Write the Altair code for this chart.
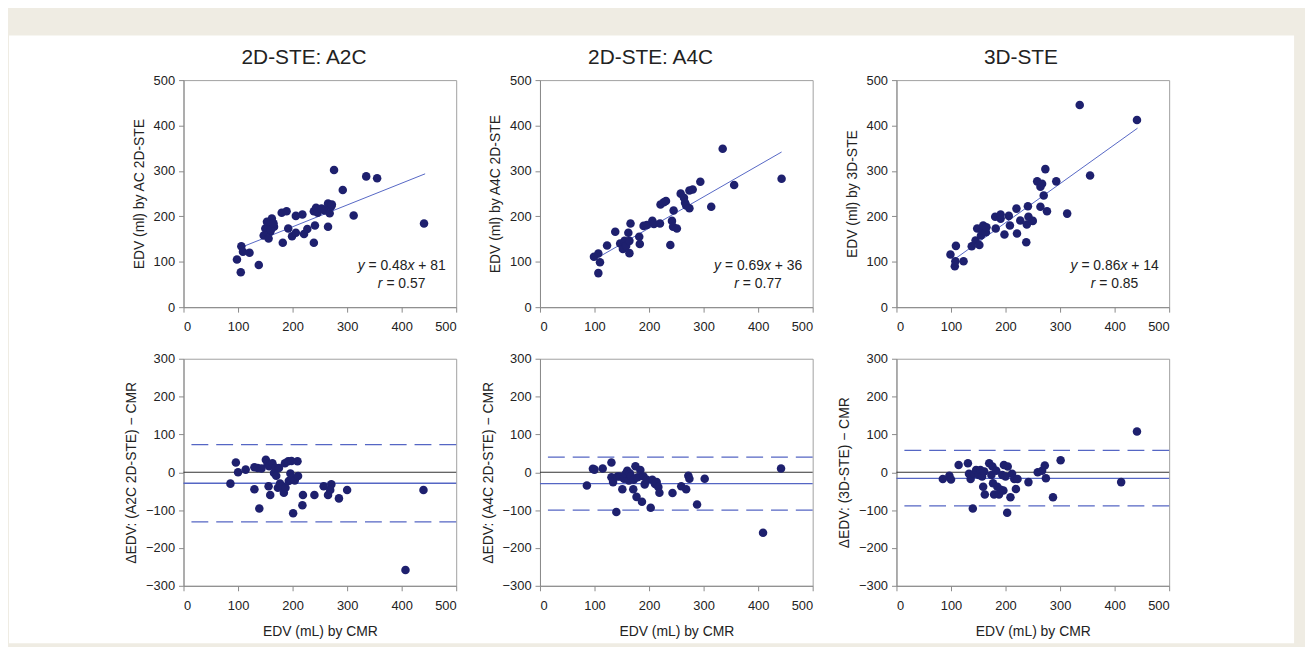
import altair as alt
import pandas as pd

FONT = "Liberation Sans, Arial, Helvetica, sans-serif"
NAVY = "#1e206e"
BLUE = "#5566c4"
TXT = "#222222"
BEIGE = "#efece3"

PANEL_TITLES = ["2D-STE: A2C", "2D-STE: A4C", "3D-STE"]
TOP_YTITLES = ["EDV (ml) by AC 2D-STE", "EDV (ml) by A4C 2D-STE", "EDV (ml) by 3D-STE"]
BOT_YTITLES = ["ΔEDV: (A2C 2D-STE) − CMR", "ΔEDV: (A4C 2D-STE) − CMR", "ΔEDV: (3D-STE) − CMR"]
X_TITLE = "EDV (mL) by CMR"
X_TICKS = [0, 100, 200, 300, 400, 500]
TOP_YTICKS = [0, 100, 200, 300, 400, 500]
BOT_YTICKS = [-300, -200, -100, 0, 100, 200, 300]

# regression statistics shown in the panels
SLOPES = [0.48, 0.69, 0.86]
INTERCEPTS = [81, 36, 14]
R_VALUES = [0.57, 0.77, 0.85]
LINE_X = [[110, 443], [102, 443], [108, 442]]

# Bland-Altman: mean bias and limits of agreement
BA_MEAN = [-29, -30, -16]
BA_UPPER = [73, 40, 58]
BA_LOWER = [-131, -100, -89]

# ---- scatter: A2C ----
a2c_cmr = [98, 105, 106, 109, 121, 138, 162, 150, 154, 159, 147, 156, 166, 153, 160, 165,
           180, 189, 182, 192, 199, 206, 206, 218, 221, 227, 239, 241, 239, 243, 246, 253,
           259, 265, 265, 268, 271, 272, 276, 292, 312, 335, 355, 441]
a2c_ste = [105, 77, 134, 122, 120, 93, 195, 173, 174, 166, 158, 151, 177, 188, 170, 185,
           208, 211, 142, 173, 156, 164, 201, 204, 161, 172, 142, 180, 211, 219, 208, 217,
           213, 228, 177, 207, 222, 226, 302, 258, 202, 288, 284, 184]
# ---- scatter: A4C ----
a4c_cmr = [99, 107, 110, 107, 123, 138, 147, 152, 155, 158, 162, 164, 166, 164, 182, 183,
           190, 196, 206, 209, 220, 221, 227, 231, 239, 242, 244, 245, 251, 258, 264, 266,
           268, 274, 274, 280, 294, 314, 335, 356, 443]
a4c_ste = [111, 118, 99, 75, 136, 166, 140, 128, 146, 135, 164, 119, 184, 146, 155, 139,
           179, 181, 190, 183, 184, 226, 231, 234, 137, 190, 177, 213, 173, 250, 241, 230,
           224, 218, 257, 259, 276, 221, 349, 269, 283]
# ---- scatter: 3D ----
d3_cmr = [99, 107, 109, 108, 123, 138, 145, 148, 152, 155, 158, 159, 164, 165, 182, 181,
          191, 191, 198, 206, 208, 221, 220, 227, 238, 239, 241, 242, 250, 258, 264, 267,
          270, 264, 273, 276, 293, 313, 336, 355, 441]
d3_ste = [116, 90, 135, 101, 101, 134, 147, 173, 137, 158, 169, 180, 165, 176, 173, 199,
          195, 204, 160, 201, 180, 162, 217, 191, 143, 182, 222, 199, 190, 277, 265, 272,
          246, 221, 304, 211, 277, 206, 445, 290, 412]

# ---- Bland-Altman: A2C ----
ba_a2c_x = [86, 96, 100, 114, 130, 130, 136, 139, 143, 151, 154, 156, 157, 159, 163, 166,
            169, 170, 173, 175, 177, 181, 184, 186, 187, 192, 193, 196, 198, 199, 201, 204,
            209, 210, 218, 219, 240, 257, 265, 271, 269, 285, 300, 407, 440]
ba_a2c_d = [-30, 26, 0, 7, 13, -45, 11, -96, 10, 33, 22, -37, 16, -60, 24, -2,
            11, -9, -41, 11, -30, -37, -54, 24, -41, 29, -23, -3, 30, -15, -108, -22,
            29, -10, -87, -60, -60, -37, -60, -32, -47, -69, -47, -258, -47]
# ---- Bland-Altman: A4C ----
ba_a4c_x = [86, 97, 100, 115, 131, 131, 134, 140, 142, 146, 151, 154, 157, 160, 163, 165,
            167, 171, 172, 175, 177, 179, 184, 187, 190, 192, 196, 203, 206, 211, 214, 217,
            219, 243, 259, 268, 272, 274, 288, 302, 409, 442]
ba_a4c_d = [-35, 9, 7, 10, 26, -13, -26, -105, -11, -11, -45, -17, -4, 4, -22, -3,
            -11, -45, -20, 16, -65, -13, 6, -78, -11, -32, -20, -94, -20, -31, -26, -39,
            -54, -55, -37, -45, -9, -17, -85, -17, -160, 10]
# ---- Bland-Altman: 3D ----
ba_3d_x = [85, 97, 100, 114, 131, 133, 136, 140, 143, 146, 151, 154, 157, 159, 161, 162,
           170, 174, 176, 177, 179, 183, 185, 188, 191, 194, 196, 197, 200, 204, 203, 209,
           212, 216, 219, 222, 242, 259, 267, 272, 274, 287, 301, 412, 441]
ba_3d_d = [-18, -9, -19, 19, 24, -4, -18, -96, -4, 6, -7, 6, -11, -38, 2, -59,
           24, -7, 15, -29, -59, 4, -38, -59, -46, -7, -48, 19, -11, 15, -107, -66,
           -4, -18, -44, -18, -26, 0, 4, 18, -16, -66, 32, -26, 108]

SCATTER = [(a2c_cmr, a2c_ste), (a4c_cmr, a4c_ste), (d3_cmr, d3_ste)]
BLAND = [(ba_a2c_x, ba_a2c_d), (ba_a4c_x, ba_a4c_d), (ba_3d_x, ba_3d_d)]

W, H = 275, 229
TITLE_DX = [-16, -26, -12]
ANNOT_X = 400
ANNOT_Y1 = 90
ANNOT_Y2 = 51


def xenc(title):
    return alt.X("x:Q", scale=alt.Scale(domain=[0, 500], nice=False),
                 axis=alt.Axis(values=X_TICKS, title=title, labelPadding=9, titlePadding=12))


def yenc(domain, ticks, title):
    return alt.Y("y:Q", scale=alt.Scale(domain=domain, nice=False),
                 axis=alt.Axis(values=ticks, title=title, labelPadding=4, titlePadding=7))


def text_piece(df, xt, yv, txt, dx, italic):
    kw = dict(text=txt, align="left", baseline="middle", dx=dx, fontSize=14,
              font=FONT, color=TXT)
    if italic:
        kw["fontStyle"] = "italic"
    return alt.Chart(df).mark_text(**kw).encode(x=xt, y=yv)


def top_panel(i):
    xs, ys = SCATTER[i]
    xt = xenc(None)
    yt = yenc([0, 500], TOP_YTICKS, TOP_YTITLES[i])
    pts = alt.Chart(pd.DataFrame({"x": xs, "y": ys})).mark_circle(
        size=74, color=NAVY, opacity=1).encode(x=xt, y=yt)
    lx = LINE_X[i]
    ly = [SLOPES[i] * v + INTERCEPTS[i] for v in lx]
    line = alt.Chart(pd.DataFrame({"x": lx, "y": ly})).mark_line(
        color=BLUE, strokeWidth=1).encode(x=xt, y=yt)
    a1 = pd.DataFrame({"x": [ANNOT_X], "y": [ANNOT_Y1]})
    a2 = pd.DataFrame({"x": [ANNOT_X], "y": [ANNOT_Y2]})
    layers = [
        line, pts,
        text_piece(a1, xt, yt, "y", -44.4, True),
        text_piece(a1, xt, yt, f"= {SLOPES[i]:.2f}", -33.5, False),
        text_piece(a1, xt, yt, "x", 5.9, True),
        text_piece(a1, xt, yt, f"+ {INTERCEPTS[i]}", 16.8, False),
        text_piece(a2, xt, yt, "r", -24.0, True),
        text_piece(a2, xt, yt, f"= {R_VALUES[i]:.2f}", -15.4, False),
    ]
    return alt.layer(*layers).properties(
        width=W, height=H,
        title=alt.TitleParams(PANEL_TITLES[i], fontSize=21, font=FONT, fontWeight="normal",
                              color=TXT, dx=TITLE_DX[i], offset=6))


def bottom_panel(i):
    xs, ds = BLAND[i]
    xt = xenc(X_TITLE)
    yt = yenc([-300, 300], BOT_YTICKS, BOT_YTITLES[i])
    pts = alt.Chart(pd.DataFrame({"x": xs, "y": ds})).mark_circle(
        size=74, color=NAVY, opacity=1).encode(x=xt, y=yt)
    zero = alt.Chart(pd.DataFrame({"y": [0]})).mark_rule(
        color="#333333", strokeWidth=1.2).encode(y=yt)
    mean = alt.Chart(pd.DataFrame({"y": [BA_MEAN[i]]})).mark_rule(
        color=BLUE, strokeWidth=1.3).encode(y=yt)
    loa = alt.Chart(pd.DataFrame({"y": [BA_UPPER[i], BA_LOWER[i]]})).mark_rule(
        color=BLUE, strokeWidth=1.3, strokeDash=[17, 8]).encode(y=yt)
    return alt.layer(loa, zero, mean, pts).properties(width=W, height=H)


grid = alt.concat(*[top_panel(i) for i in range(3)], *[bottom_panel(i) for i in range(3)],
                  columns=3, spacing={"row": 52, "column": 84.5}, bounds="flush")

frame = pd.DataFrame({"k": [0]})
band = alt.layer(
    alt.Chart(frame).mark_rect(color=BEIGE).encode(
        x=alt.value(-175), x2=alt.value(1130), y=alt.value(0), y2=alt.value(24)),
    alt.Chart(frame).mark_rect(color="white").encode(
        x=alt.value(-176), x2=alt.value(1120), y=alt.value(24), y2=alt.value(637)),
).properties(width=1, height=24, view=alt.ViewBackground(stroke="transparent"))

chart = alt.vconcat(band, grid, spacing=45, bounds="flush").properties(
    background=BEIGE,
    padding={"left": 0, "top": 0, "right": 0, "bottom": 0},
).configure_axis(
    labelFont=FONT, labelFontSize=13, labelColor="#222222",
    titleFont=FONT, titleFontSize=14, titleFontWeight="normal", titleColor="#222222",
    domainColor="#8a8a8a", tickColor="#8a8a8a", tickSize=5, grid=False,
).configure_view(stroke="#a0a0a0")

chart.save("out.html", embed_options={"renderer": "svg", "actions": False})
